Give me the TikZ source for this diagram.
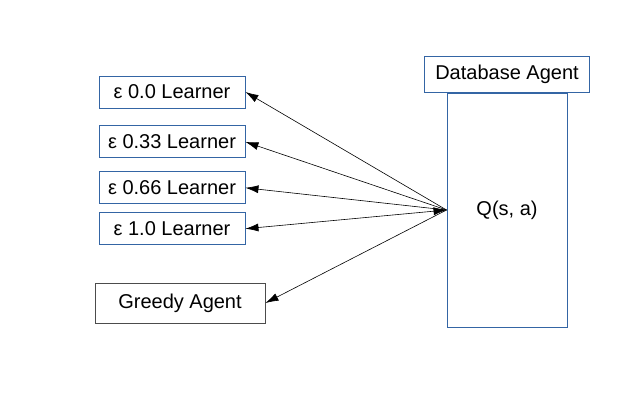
\documentclass[tikz,border=0pt]{standalone}
\usepackage{fontspec}
\setmainfont{Liberation Sans}
\usetikzlibrary{positioning,arrows.meta}
\definecolor{boxblue}{RGB}{52,101,164}
\tikzset{
  agentbox/.style={draw=boxblue, line width=0.9pt, inner sep=0pt, font=\fontsize{20}{24}\selectfont},
  learner/.style={agentbox, minimum width=146pt, minimum height=32pt},
  link/.style={{Latex[length=13pt,width=8pt]}-, line width=0.6pt},
  duallink/.style={{Latex[length=13pt,width=8pt]}-{Latex[length=13pt,width=8pt]}, line width=0.6pt}
}

\begin{document}
\begin{tikzpicture}[x=1pt,y=1pt]
  \useasboundingbox (0,0) rectangle (638,418);

  \node [learner] (l00) at (172,326) {ε 0.0 Learner};
  \node [learner, below=17pt of l00] (l33) {ε 0.33 Learner};
  \node [learner, below=13pt of l33] (l66) {ε 0.66 Learner};
  \node [learner, below=8pt of l66] (l10) {ε 1.0 Learner};
  \node [agentbox, draw=black!70, minimum width=170pt, minimum height=40pt] (greedy) at (180,115) {Greedy Agent};

  \node [agentbox, minimum width=120pt, minimum height=234pt] (q) at (507,208) {Q(s, a)};
  \node [agentbox, minimum width=165pt, minimum height=36pt, above=0pt of q] (db) {Database Agent};

  \foreach \n in {l00,l33,l66,greedy}
    \draw [link] (\n.east) -- (q.west);
  \draw [duallink] (l10.east) -- (q.west);

\end{tikzpicture}
\end{document}
